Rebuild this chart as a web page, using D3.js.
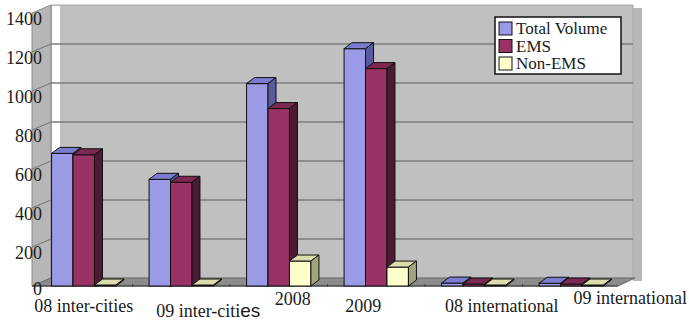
<!DOCTYPE html>
<html>
<head>
<meta charset="utf-8">
<script src="https://cdn.jsdelivr.net/npm/d3@7"></script>
<style>
  body { margin: 0; background: #fff; }
  text { font-family: "Liberation Serif", "Times New Roman", serif; fill: #1a1a1a; }
</style>
</head>
<body>
<div id="chart"></div>
<script>
// Data
var categories = ["08 inter-cities", "09 inter-cities", "2008", "2009", "08 international", "09 international"];
var seriesNames = ["Total Volume", "EMS", "Non-EMS"];
var totalVolume = [680, 547, 1038, 1217, 15, 14];
var ems = [673, 532, 910, 1115, 10, 10];
var nonEms = [5, 5, 128, 97, 5, 5];
var yTicks = [0, 200, 400, 600, 800, 1000, 1200, 1400];

// Layout only: the category labels are staggered in the original
var labelDx = [0, 27, 14, -13, 28, 59];
var labelDy = [0, 5, -7, 0, 0, -8];

var width = 689, height = 322;

// Geometry of the 3D box (back wall, left wall, floor)
var wall = {left: 51, right: 633, top: 5, bottom: 278}; // back wall
var depth = {dx: -19, dy: 8};                            // back -> front
var floorFront = wall.bottom + depth.dy;                  // y of the front floor edge
var bar3d = {dx: 8, dy: -6};                              // depth of every bar

var colors = {
  front: ["#9a9ae6", "#993366", "#ffffcc"],
  top:   ["#7b7bd0", "#7a2952", "#dcdcac"],
  side:  ["#5a5aa0", "#4d1a33", "#a3a37c"]
};

var svg = d3.select("#chart")
  .append("svg")
    .attr("width", width)
    .attr("height", height);

// Value scale on the back wall and on the bar fronts
var yBack = d3.scaleLinear().domain([0, 1400]).range([wall.bottom, wall.top]);
var yFront = d3.scaleLinear().domain([0, 1400]).range([floorFront, floorFront - (wall.bottom - wall.top)]);

// Category scale for the bar front faces
var x0 = d3.scaleBand()
  .domain(categories)
  .range([35, 620])
  .paddingInner(0.34)
  .paddingOuter(0.17);

var x1 = d3.scaleBand()
  .domain(seriesNames)
  .range([0, x0.bandwidth()]);

function pts(a) { return a.map(function (p) { return p.join(","); }).join(" "); }

// Right side shadow of the plot area
svg.append("rect")
  .attr("x", wall.right)
  .attr("y", wall.top + 3)
  .attr("width", 9)
  .attr("height", wall.bottom - wall.top)
  .style("fill", "#b8b8b8");

// Back wall
svg.append("rect")
  .attr("x", wall.left)
  .attr("y", wall.top)
  .attr("width", wall.right - wall.left)
  .attr("height", wall.bottom - wall.top)
  .style("fill", "#c0c0c0")
  .style("stroke", "#a8a8a8");

// White strip along the left of the back wall
svg.append("rect")
  .attr("x", wall.left + 1)
  .attr("y", wall.top + 1)
  .attr("width", 8)
  .attr("height", wall.bottom - wall.top - 1)
  .style("fill", "#ffffff");

// Left wall
svg.append("polygon")
  .attr("points", pts([
    [wall.left + depth.dx, wall.top + depth.dy],
    [wall.left, wall.top],
    [wall.left, wall.bottom],
    [wall.left + depth.dx, floorFront]
  ]))
  .style("fill", "#b6b6b6")
  .style("stroke", "#8a8a8a");

// Gridlines on the back wall and the left wall
var grid = svg.append("g");
yTicks.filter(function (t) { return t > 0 && t < 1400; }).forEach(function (t) {
  grid.append("line")
    .attr("x1", wall.left).attr("x2", wall.right)
    .attr("y1", yBack(t)).attr("y2", yBack(t))
    .style("stroke", "#7c7c7c").style("stroke-width", 1.5);
  grid.append("line")
    .attr("x1", wall.left + depth.dx).attr("x2", wall.left)
    .attr("y1", yBack(t) + depth.dy).attr("y2", yBack(t))
    .style("stroke", "#7c7c7c").style("stroke-width", 1.2);
});

// Floor
svg.append("polygon")
  .attr("points", pts([
    [wall.left, wall.bottom],
    [wall.right + 2, wall.bottom],
    [wall.right - 15, floorFront],
    [wall.left + depth.dx, floorFront]
  ]))
  .style("fill", "#8c8c8c")
  .style("stroke", "#6a6a6a");

svg.append("line")
  .attr("x1", wall.left + depth.dx).attr("x2", wall.right - 15)
  .attr("y1", floorFront).attr("y2", floorFront)
  .style("stroke", "#333").style("stroke-width", 1);

// Small ticks between the categories on the floor edge
categories.slice(1).forEach(function (c) {
  var tx = x0(c) - x0.step() * x0.paddingInner() / 2;
  svg.append("line")
    .attr("x1", tx).attr("x2", tx)
    .attr("y1", floorFront - 2).attr("y2", floorFront + 1)
    .style("stroke", "#444");
});

// Y axis labels
svg.append("g")
  .selectAll("text")
  .data(yTicks)
  .enter()
  .append("text")
    .attr("x", 42)
    .attr("y", function (d) { return yBack(d) + (d === 0 ? 11 : 14); })
    .attr("dy", "0.35em")
    .attr("text-anchor", "end")
    .style("font-size", "18px")
    .text(function (d) { return d; });

// Bars as 3D boxes
var rows = categories.map(function (c, i) {
  return {cat: c, values: [totalVolume[i], ems[i], nonEms[i]]};
});

var groups = svg.append("g")
  .selectAll("g")
  .data(rows)
  .enter()
  .append("g")
    .attr("transform", function (d) { return "translate(" + x0(d.cat) + ",0)"; });

groups.each(function (d) {
  var g = d3.select(this);
  d.values.forEach(function (v, s) {
    var x = x1(seriesNames[s]), w = x1.bandwidth();
    var yt = yFront(v), yb = yFront(0);
    // front face
    g.append("rect")
      .attr("x", x).attr("y", yt)
      .attr("width", w).attr("height", yb - yt)
      .style("fill", colors.front[s])
      .style("stroke", "#111").style("stroke-width", 1);
    // top face
    g.append("polygon")
      .attr("points", pts([[x, yt], [x + w, yt], [x + w + bar3d.dx, yt + bar3d.dy], [x + bar3d.dx, yt + bar3d.dy]]))
      .style("fill", colors.top[s])
      .style("stroke", "#111").style("stroke-width", 1);
    // side face
    g.append("polygon")
      .attr("points", pts([[x + w, yt], [x + w + bar3d.dx, yt + bar3d.dy], [x + w + bar3d.dx, yb + bar3d.dy], [x + w, yb]]))
      .style("fill", colors.side[s])
      .style("stroke", "#111").style("stroke-width", 1);
  });
});

// Category labels
var catLabels = svg.append("g")
  .selectAll("text")
  .data(categories)
  .enter()
  .append("text")
    .attr("x", function (d, i) { return x0(d) + x0.bandwidth() / 2 + labelDx[i]; })
    .attr("y", function (d, i) { return 306 + labelDy[i]; })
    .attr("dy", "0.35em")
    .attr("text-anchor", "middle")
    .style("font-size", "18px");

catLabels.each(function (d) {
  var t = d3.select(this);
  if (d === "09 inter-cities") {
    // the last two letters are set in another typeface in the original
    t.append("tspan").text("09 inter-citi");
    t.append("tspan")
      .style("font-family", "'Liberation Sans', Arial, sans-serif")
      .style("font-size", "19px")
      .text("es");
  } else {
    t.text(d);
  }
});

// Legend
var legend = svg.append("g")
  .attr("transform", "translate(495,17)");

legend.append("rect")
  .attr("width", 126)
  .attr("height", 57)
  .style("fill", "#fff")
  .style("stroke", "#111")
  .style("stroke-width", 1.5);

seriesNames.forEach(function (name, s) {
  legend.append("rect")
    .attr("x", 4)
    .attr("y", 5 + s * 17.5)
    .attr("width", 13)
    .attr("height", 13)
    .style("fill", colors.front[s])
    .style("stroke", "#111");
  legend.append("text")
    .attr("x", 21)
    .attr("y", 11.5 + s * 17.5)
    .attr("dy", "0.35em")
    .style("font-size", "17px")
    .text(name);
});
</script>
</body>
</html>
